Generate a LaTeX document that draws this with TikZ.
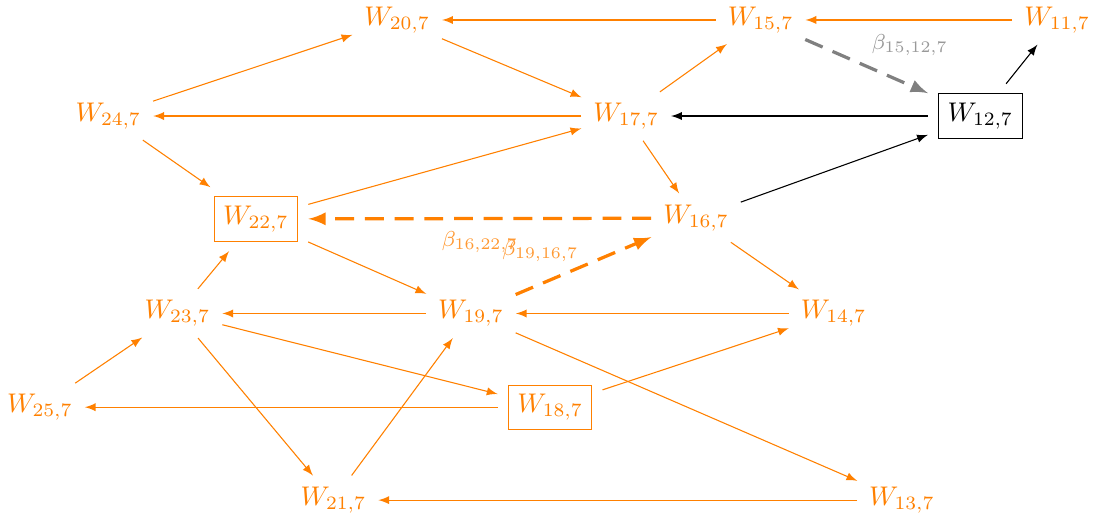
\documentclass[tikz,border=0pt]{standalone}
\usepackage{amsmath}
\usepackage{amssymb}
\usepackage{tikz}
\usetikzlibrary{arrows}

\begin{document}
\begin{tikzpicture}[
    var/.style={rectangle, orange, inner sep=0.5pt, outer sep=3pt},
    obs/.style={var, draw, inner sep=3.33pt},
    ref/.style={obs, black},
    arrow/.style={-latex, orange, shorten >=1pt, shorten <=1pt},
    blk/.style={-latex, black, shorten >=1pt, shorten <=1pt},
    dep/.style={-latex, very thick, dash pattern=on 7pt off 4pt, shorten >=1pt, shorten <=1pt},
    lbl/.style={font=\footnotesize}
]

\useasboundingbox (0,0) rectangle (14.24,-6.78);

% Top row
\node[var] (w20) at (5.17,-0.26) {$W_{20,7}$};
\node[var] (w15) at (9.90,-0.26) {$W_{15,7}$};
\node[var] (w11) at (13.76,-0.26) {$W_{11,7}$};

% Second row
\node[var] (w24) at (1.41,-1.51) {$W_{24,7}$};
\node[var] (w17) at (8.15,-1.51) {$W_{17,7}$};
\node[ref] (w12) at (12.76,-1.51) {$W_{12,7}$};

% Third row
\node[obs] (w22) at (3.33,-2.85) {$W_{22,7}$};
\node[var] (w16) at (9.06,-2.84) {$W_{16,7}$};

% Fourth row
\node[var] (w23) at (2.31,-4.08) {$W_{23,7}$};
\node[var] (w19) at (6.13,-4.08) {$W_{19,7}$};
\node[var] (w14) at (10.85,-4.08) {$W_{14,7}$};

% Fifth row
\node[var] (w25) at (0.52,-5.30) {$W_{25,7}$};
\node[obs] (w18) at (7.16,-5.30) {$W_{18,7}$};

% Bottom row
\node[var] (w21) at (4.34,-6.51) {$W_{21,7}$};
\node[var] (w13) at (11.74,-6.51) {$W_{13,7}$};

% Arrows
\draw[arrow] (w15) -- (w20);
\draw[arrow] (w11) -- (w15);
\draw[arrow] (w24) -- (w20);
\draw[arrow] (w20) -- (w17);
\draw[arrow] (w17) -- (w15);
\draw[arrow] (w17) -- (w24);
\draw[arrow] (w24) -- (w22);
\draw[arrow] (w22) -- (w17);
\draw[arrow] (w17) -- (w16);
\draw[arrow] (w22) -- (w19);
\draw[arrow] (w23) -- (w22);
\draw[arrow] (w16) -- (w14);
\draw[arrow] (w19) -- (w23);
\draw[arrow] (w14) -- (w19);
\draw[arrow] (w23) -- (w18);
\draw[arrow] (w23) -- (w21);
\draw[arrow] (w25) -- (w23);
\draw[arrow] (w18) -- (w25);
\draw[arrow] (w18) -- (w14);
\draw[arrow] (w21) -- (w19);
\draw[arrow] (w19) -- (w13);
\draw[arrow] (w13) -- (w21);

% Reference node
\draw[blk] (w12) -- (w17);
\draw[blk] (w12) -- (w11);
\draw[blk] (w16) -- (w12);

% Dependencies
\draw[dep, gray] (w15) -- (w12) node[lbl, midway, above right, gray!80, xshift=-2pt] {$\beta_{15,12,7}$};
\draw[dep, orange] (w16) -- (w22) node[lbl, midway, below, orange!80, yshift=-1pt] {$\beta_{16,22,7}$};
\draw[dep, orange] (w19) -- (w16) node[lbl, midway, above left, orange!80, xshift=2pt, yshift=-2.5pt] {$\beta_{19,16,7}$};

\end{tikzpicture}
\end{document}
